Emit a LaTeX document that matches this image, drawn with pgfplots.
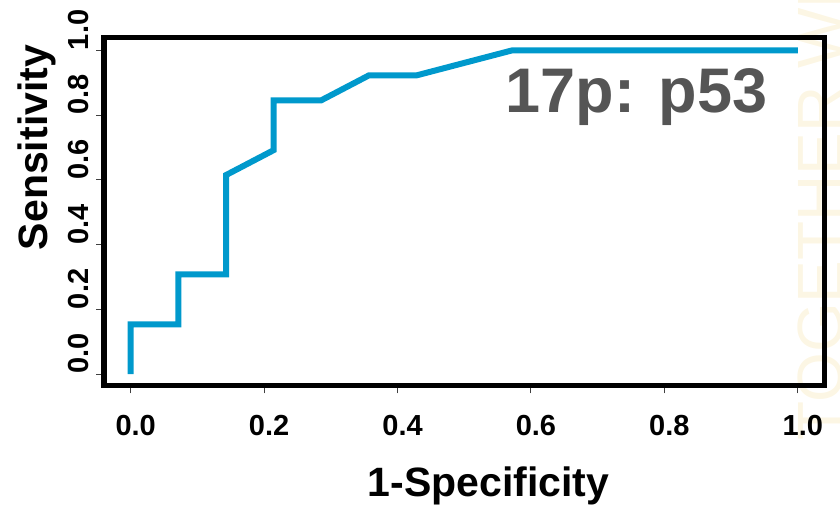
\documentclass[border=0pt]{standalone}
\usepackage{fontspec}
\setmainfont{Liberation Sans}
\usepackage{pgfplots}
\pgfplotsset{compat=1.18}
\definecolor{roc}{RGB}{0,153,204}
\definecolor{txtgray}{RGB}{85,85,85}
\definecolor{wm}{RGB}{252,246,228}
\begin{document}
\begin{tikzpicture}
\useasboundingbox (0,0) rectangle (420pt,253.5pt);
\node[rotate=90, anchor=base west, text=wm, font=\fontsize{32}{32}\selectfont, inner sep=0pt] at (421pt,33pt) {TOGETHER WE};
\begin{axis}[
  at={(52pt,60.75pt)}, anchor=south west,
  scale only axis, width=360.25pt, height=174pt,
  xmin=-0.04, xmax=1.04, ymin=-0.035, ymax=1.04,
  axis line style={line width=2.75pt, black},
  xtick={0,0.2,0.4,0.6,0.8,1},
  ytick={0,0.2,0.4,0.6,0.8,1},
  xticklabels={0.0,0.2,0.4,0.6,0.8,1.0},
  yticklabels={0.0,0.2,0.4,0.6,0.8,1.0},
  xtick pos=left, ytick pos=left,
  tick align=outside, major tick length=4pt,
  tick style={line width=0.5pt, black!75},
  tick label style={font=\fontsize{14.5}{14.5}\selectfont\bfseries},
  xticklabel style={anchor=north, xshift=2.5pt},
  xticklabel shift=7.5pt,
  yticklabel style={rotate=90, anchor=south west, inner xsep=0pt},
  clip=false,
]
\addplot[roc, line width=3pt] coordinates {
  (0,0) (0,0.154) (0.0714,0.154) (0.0714,0.308) (0.1429,0.308) (0.1429,0.615)
  (0.2143,0.692) (0.2143,0.846) (0.2857,0.846) (0.3571,0.923) (0.4286,0.923)
  (0.5714,1.0) (1.0,1.0)
};
\end{axis}
\node[anchor=base, text=txtgray, font=\fontsize{31.5}{31.5}\selectfont\bfseries] at (318.25pt,197pt) {17p: p53};
\node[rotate=90, anchor=base, font=\fontsize{20.5}{20.5}\selectfont\bfseries] at (23.5pt,179.75pt) {Sensitivity};
\node[anchor=base, font=\fontsize{20.5}{20.5}\selectfont\bfseries] at (244.25pt,5pt) {1-Specificity};
\end{tikzpicture}
\end{document}
